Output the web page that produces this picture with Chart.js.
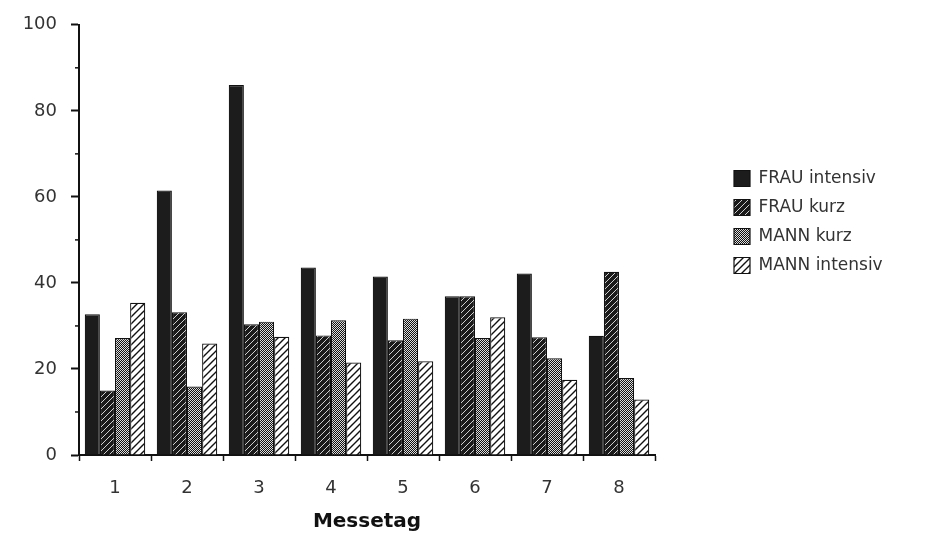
<!DOCTYPE html>
<html>
<head>
<meta charset="utf-8">
<script src="https://cdn.jsdelivr.net/npm/chart.js@4.4.1/dist/chart.umd.min.js"></script>
<style>
html, body { margin: 0; padding: 0; background: #fff; }
#wrap { width: 934px; height: 534px; }
</style>
</head>
<body>
<div id="wrap"><canvas id="grafico" width="934" height="534"></canvas></div>
<script>
// Werte
const messetage = ['1', '2', '3', '4', '5', '6', '7', '8'];
const frauIntensiv = [32.7, 61.5, 86, 43.6, 41.5, 36.9, 42.2, 27.7];
const frauKurz = [15, 33.2, 30.4, 27.8, 26.7, 36.9, 27.4, 42.6];
const mannKurz = [27.2, 15.9, 31, 31.3, 31.7, 27.2, 22.5, 17.9];
const mannIntensiv = [35.4, 25.9, 27.5, 21.5, 21.8, 32, 17.5, 12.9];
const yMax = 100;
const yStep = 20;

// Muster fuer die Balken
function muster(tipo) {
  const c = document.createElement('canvas');
  const ctx = c.getContext('2d');
  if (tipo === 'schraffurDunkel') {
    c.width = 6; c.height = 6;
    ctx.fillStyle = '#1a1a1a';
    ctx.fillRect(0, 0, 6, 6);
    ctx.strokeStyle = '#cfcfcf';
    ctx.lineWidth = 1;
    ctx.beginPath();
    ctx.moveTo(0, 6); ctx.lineTo(6, 0);
    ctx.moveTo(-1, 1); ctx.lineTo(1, -1);
    ctx.moveTo(5, 7); ctx.lineTo(7, 5);
    ctx.stroke();
  } else if (tipo === 'gitter') {
    c.width = 2; c.height = 2;
    ctx.fillStyle = '#111';
    ctx.fillRect(0, 0, 2, 2);
    ctx.fillStyle = '#dcdcdc';
    ctx.fillRect(0, 0, 1, 1);
    ctx.fillRect(1, 1, 1, 1);
  } else if (tipo === 'schraffurHell') {
    c.width = 7; c.height = 7;
    ctx.fillStyle = '#ffffff';
    ctx.fillRect(0, 0, 7, 7);
    ctx.strokeStyle = '#111';
    ctx.lineWidth = 1.4;
    ctx.beginPath();
    ctx.moveTo(0, 7); ctx.lineTo(7, 0);
    ctx.moveTo(-1, 1); ctx.lineTo(1, -1);
    ctx.moveTo(6, 8); ctx.lineTo(8, 6);
    ctx.stroke();
  }
  return ctx.createPattern(c, 'repeat');
}

// kleine Zwischenstriche an der y-Achse
const kleineStriche = {
  id: 'kleineStriche',
  afterDraw(chart) {
    const y = chart.scales.y;
    const ctx = chart.ctx;
    ctx.save();
    ctx.strokeStyle = '#111';
    ctx.lineWidth = 1.5;
    for (let v = yStep / 2; v < yMax; v += yStep) {
      const py = y.getPixelForValue(v);
      ctx.beginPath();
      ctx.moveTo(y.right - 4, py);
      ctx.lineTo(y.right, py);
      ctx.stroke();
    }
    ctx.restore();
  }
};

// Legende rechts neben das Diagramm schieben
const legendePlatz = {
  id: 'legendePlatz',
  afterLayout(chart) {
    const lg = chart.legend;
    lg.left = 722;
    lg.top = 158;
    lg.right = lg.left + lg.width;
    lg.bottom = lg.top + lg.height;
  }
};

Chart.defaults.font.family = "'DejaVu Sans', sans-serif";
Chart.defaults.color = '#222';

const ctx = document.getElementById('grafico').getContext('2d');

const meuGrafico = new Chart(ctx, {
  type: 'bar',
  data: {
    labels: messetage,
    datasets: [
      { label: 'FRAU intensiv', data: frauIntensiv, backgroundColor: '#1c1c1c' },
      { label: 'FRAU kurz', data: frauKurz, backgroundColor: muster('schraffurDunkel') },
      { label: 'MANN kurz', data: mannKurz, backgroundColor: muster('gitter') },
      { label: 'MANN intensiv', data: mannIntensiv, backgroundColor: muster('schraffurHell') }
    ]
  },
  options: {
    responsive: false,
    animation: false,
    layout: { padding: { top: 20, right: 279, bottom: 0, left: 0 } },
    datasets: {
      bar: {
        categoryPercentage: 0.84,
        barPercentage: 1.0,
        borderColor: '#111',
        borderWidth: 1.2
      }
    },
    plugins: {
      tooltip: { enabled: false },
      legend: {
        position: 'chartArea',
        align: 'start',
        labels: {
          boxWidth: 16,
          boxHeight: 16,
          padding: 12,
          color: '#333',
          font: { size: 17 }
        }
      }
    },
    scales: {
      x: {
        afterFit(scale) { scale.height = 79; },
        grid: { drawOnChartArea: false, tickLength: 6, tickColor: '#111', tickWidth: 1.5 },
        border: { color: '#111', width: 2 },
        ticks: { font: { size: 18 }, padding: 17, color: '#333' },
        title: {
          display: true,
          text: 'Messetag',
          color: '#111',
          font: { size: 20, weight: 'bold' },
          padding: { top: 2, bottom: 0 }
        }
      },
      y: {
        min: 0,
        max: yMax,
        afterFit(scale) { scale.width = 79; },
        grid: { drawOnChartArea: false, tickLength: 8, tickColor: '#111', tickWidth: 2 },
        border: { color: '#111', width: 2 },
        ticks: { stepSize: yStep, padding: 14, font: { size: 18 }, color: '#333' }
      }
    }
  },
  plugins: [kleineStriche, legendePlatz]
});
</script>
</body>
</html>
